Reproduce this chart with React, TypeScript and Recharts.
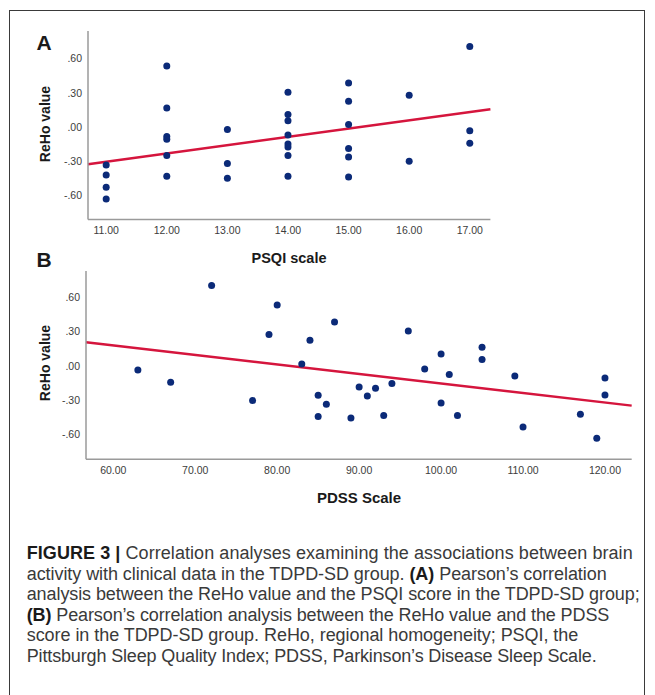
import {
  ScatterChart,
  Scatter,
  XAxis,
  YAxis,
  ReferenceLine,
} from "recharts";

// Panel A: PSQI score vs ReHo value
const psqiScores = [
  11, 11, 11, 11,
  12, 12, 12, 12, 12, 12,
  13, 13, 13,
  14, 14, 14, 14, 14, 14, 14, 14,
  15, 15, 15, 15, 15, 15,
  16, 16,
  17, 17, 17,
];
const psqiReho = [
  -0.333, -0.421, -0.529, -0.632,
  0.536, 0.167, -0.084, -0.108, -0.251, -0.433,
  -0.023, -0.321, -0.45,
  0.305, 0.109, 0.056, -0.07, -0.149, -0.176, -0.251, -0.433,
  0.387, 0.226, 0.021, -0.19, -0.264, -0.44,
  0.279, -0.302,
  0.707, -0.032, -0.143,
];
const psqiFit = [
  { x: 10.7, y: -0.328 },
  { x: 17.34, y: 0.156 },
];
const psqiTicks = [11, 12, 13, 14, 15, 16, 17];

// Panel B: PDSS score vs ReHo value
const pdssScores = [
  63, 67, 72, 77, 79, 80, 83, 84, 85, 85, 86, 87, 89, 90, 91, 92,
  93, 94, 96, 98, 100, 100, 101, 102, 105, 105, 109, 110, 117, 119, 120, 120,
];
const pdssReho = [
  -0.035, -0.143, 0.704, -0.303, 0.275, 0.534, 0.018, 0.225, -0.257, -0.443, -0.335, 0.385, -0.455, -0.184, -0.263, -0.195,
  -0.434, -0.154, 0.307, -0.026, 0.105, -0.324, -0.075, -0.434, 0.164, 0.056, -0.088, -0.534, -0.423, -0.633, -0.105, -0.254,
];
const pdssFit = [
  { x: 56.67, y: 0.208 },
  { x: 123.26, y: -0.347 },
];
const pdssTicks = [60, 70, 80, 90, 100, 110, 120];

const rehoTicks = [-0.6, -0.3, 0, 0.3, 0.6];

const captionFont = "'Liberation Sans', Arial, Helvetica, sans-serif";
const tickFont = "'Liberation Sans Narrow', 'Arial Narrow', 'Liberation Sans', Arial, sans-serif";
const DOT = "#0b2a78";
const FIT = "#d5153d";
const AXIS = "#9a9a9a";

// SPSS style: .60, -.30, .00
const fmtReho = (v: number) => {
  const s = Math.abs(v).toFixed(2).replace(/^0/, "");
  return v < 0 ? "-" + s : s;
};
const fmtScore = (v: number) => v.toFixed(2);

const dot = (p: any) => <circle cx={p.cx} cy={p.cy} r={3.5} fill={DOT} />;

function Panel({
  xs,
  ys,
  fit,
  xTicks,
  xDomain,
  yDomain,
  left,
  top,
  plotW,
  plotH,
}: {
  xs: number[];
  ys: number[];
  fit: { x: number; y: number }[];
  xTicks: number[];
  xDomain: [number, number];
  yDomain: [number, number];
  left: number;
  top: number;
  plotW: number;
  plotH: number;
}) {
  const yW = 40;
  const xH = 30;
  const data = xs.map((x, i) => ({ x, y: ys[i] }));
  const tick = { fill: "#3c3c3c", fontSize: 10.5, fontFamily: tickFont };
  return (
    <div style={{ position: "absolute", left: left - yW, top }}>
      <ScatterChart
        width={plotW + yW}
        height={plotH + xH}
        margin={{ top: 0, right: 0, bottom: 0, left: 0 }}
      >
        <XAxis
          type="number"
          dataKey="x"
          domain={xDomain}
          ticks={xTicks}
          allowDataOverflow
          tickFormatter={fmtScore}
          tickLine={false}
          tickSize={6}
          tickMargin={1}
          height={xH}
          axisLine={{ stroke: AXIS, strokeWidth: 1.5 }}
          tick={tick}
        />
        <YAxis
          type="number"
          dataKey="y"
          domain={yDomain}
          ticks={rehoTicks}
          allowDataOverflow
          tickFormatter={fmtReho}
          tickLine={false}
          tickSize={4}
          tickMargin={2}
          width={yW}
          axisLine={{ stroke: AXIS, strokeWidth: 1.5 }}
          tick={tick}
        />
        <Scatter data={data} shape={dot} isAnimationActive={false} />
        <ReferenceLine
          segment={fit}
          stroke={FIT}
          strokeWidth={2.5}
          ifOverflow="visible"
        />
      </ScatterChart>
    </div>
  );
}

export default function App() {
  const bold = { fontWeight: 700, fill: "#1a1a1a" } as const;
  const cap = { x: 26.7, lengthAdjust: "spacing" } as const;
  return (
    <div
      style={{
        position: "absolute",
        left: 0,
        top: 0,
        width: 655,
        height: 695,
        background: "#fff",
        overflow: "hidden",
        fontFamily: captionFont,
      }}
    >
      {/* frame */}
      <div
        style={{
          position: "absolute",
          left: 9,
          top: 10,
          width: 636,
          height: 720,
          border: "1px solid #3a3a3a",
          boxSizing: "border-box",
        }}
      />

      <Panel
        xs={psqiScores}
        ys={psqiReho}
        fit={psqiFit}
        xTicks={psqiTicks}
        xDomain={[10.7, 17.34]}
        yDomain={[-0.814, 0.844]}
        left={88.3}
        top={30.7}
        plotW={402.4}
        plotH={188.6}
      />
      <Panel
        xs={pdssScores}
        ys={pdssReho}
        fit={pdssFit}
        xTicks={pdssTicks}
        xDomain={[56.67, 123.26]}
        yDomain={[-0.817, 0.832]}
        left={86}
        top={270.7}
        plotW={545.7}
        plotH={188.3}
      />

      <svg
        width={655}
        height={695}
        style={{ position: "absolute", left: 0, top: 0, pointerEvents: "none" }}
        fontFamily={captionFont}
      >
        <text x={36.5} y={50} fontSize={21} fontWeight={700} fill="#1a1a1a">A</text>
        <text x={36.5} y={267.3} fontSize={21} fontWeight={700} fill="#1a1a1a">B</text>

        <text
          transform="translate(50,124) rotate(-90)"
          textAnchor="middle"
          fontSize={14}
          fontWeight={700}
          fill="#1a1a1a"
        >
          ReHo value
        </text>
        <text
          transform="translate(50,363) rotate(-90)"
          textAnchor="middle"
          fontSize={14}
          fontWeight={700}
          fill="#1a1a1a"
        >
          ReHo value
        </text>

        <text x={289} y={262.5} textAnchor="middle" fontSize={14.5} fontWeight={700} fill="#1a1a1a">
          PSQI scale
        </text>
        <text x={359} y={503} textAnchor="middle" fontSize={15} fontWeight={700} fill="#1a1a1a">
          PDSS Scale
        </text>

        <g fontSize={18} fill="#3a3a3a">
          <text {...cap} y={559.3} textLength={606}>
            <tspan {...bold}>FIGURE 3 | </tspan>Correlation analyses examining the associations between brain
          </text>
          <text {...cap} y={579.8} textLength={580}>
            activity with clinical data in the TDPD-SD group. <tspan {...bold}>(A)</tspan> Pearson’s correlation
          </text>
          <text {...cap} y={600.3} textLength={613}>
            analysis between the ReHo value and the PSQI score in the TDPD-SD group;
          </text>
          <text {...cap} y={620.8} textLength={582.6}>
            <tspan {...bold}>(B)</tspan> Pearson’s correlation analysis between the ReHo value and the PDSS
          </text>
          <text {...cap} y={641.3} textLength={551.6}>
            score in the TDPD-SD group. ReHo, regional homogeneity; PSQI, the
          </text>
          <text {...cap} y={661.8} textLength={570}>
            Pittsburgh Sleep Quality Index; PDSS, Parkinson’s Disease Sleep Scale.
          </text>
        </g>
      </svg>
    </div>
  );
}
